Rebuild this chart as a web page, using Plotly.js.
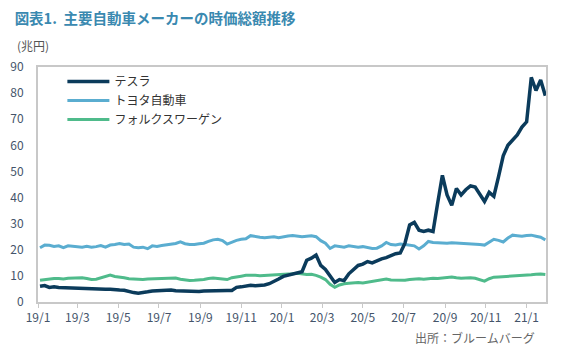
<!DOCTYPE html>
<html>
<head>
<meta charset="utf-8">
<script src="https://cdn.plot.ly/plotly-3.0.1.min.js"></script>
<style>html,body{margin:0;padding:0;background:#fff}#chart{width:563px;height:353px}</style>
</head>
<body>
<div id="chart"></div>
<script>
const dates = [
'2019-01-04','2019-01-11','2019-01-18','2019-01-25',
'2019-02-01','2019-02-08','2019-02-15','2019-02-22',
'2019-03-01','2019-03-08','2019-03-15','2019-03-22','2019-03-29',
'2019-04-05','2019-04-12','2019-04-19','2019-04-26',
'2019-05-03','2019-05-10','2019-05-17','2019-05-24','2019-05-31',
'2019-06-07','2019-06-14','2019-06-21','2019-06-28',
'2019-07-05','2019-07-12','2019-07-19','2019-07-26',
'2019-08-02','2019-08-09','2019-08-16','2019-08-23','2019-08-30',
'2019-09-06','2019-09-13','2019-09-20','2019-09-27',
'2019-10-04','2019-10-11','2019-10-18','2019-10-25',
'2019-11-01','2019-11-08','2019-11-15','2019-11-22','2019-11-29',
'2019-12-06','2019-12-13','2019-12-20','2019-12-27',
'2020-01-03','2020-01-10','2020-01-17','2020-01-24','2020-01-31',
'2020-02-07','2020-02-14','2020-02-21','2020-02-28',
'2020-03-06','2020-03-13','2020-03-20','2020-03-27',
'2020-04-03','2020-04-10','2020-04-17','2020-04-24',
'2020-05-01','2020-05-08','2020-05-15','2020-05-22','2020-05-29',
'2020-06-05','2020-06-12','2020-06-19','2020-06-26',
'2020-07-03','2020-07-10','2020-07-17','2020-07-24','2020-07-31',
'2020-08-07','2020-08-14','2020-08-21','2020-08-28',
'2020-09-04','2020-09-11','2020-09-18','2020-09-25',
'2020-10-02','2020-10-09','2020-10-16','2020-10-23','2020-10-30',
'2020-11-06','2020-11-13','2020-11-20','2020-11-27',
'2020-12-04','2020-12-11','2020-12-18','2020-12-25',
'2021-01-01','2021-01-08','2021-01-15','2021-01-22','2021-01-29'
];
const tesla = [
6.0,6.3,5.6,5.8,
5.6,5.5,5.6,5.5,
5.3,5.2,5.0,4.9,5.0,
4.8,4.9,4.9,4.6,
4.6,4.5,4.0,3.6,3.4,
3.8,3.9,4.2,4.3,
4.4,4.5,4.6,4.3,
4.2,4.1,4.0,3.9,4.0,
4.2,4.3,4.3,4.2,
4.3,4.4,4.4,5.6,
5.8,6.1,6.4,6.2,6.3,
6.5,7.0,7.8,8.8,
9.8,10.3,10.8,11.3,11.6,
16.0,16.8,18.0,14.0,
12.5,9.8,7.5,8.6,
8.2,10.8,12.6,14.0,
14.5,15.5,15.0,15.8,16.5,
17.0,17.8,18.5,18.8,
22.5,29.5,30.5,27.5,27.0,
27.5,27.0,38.0,48.5,
41.0,37.0,43.5,41.0,
43.0,44.5,44.0,41.5,38.5,
42.0,40.5,48.0,56.0,
60.0,62.0,64.0,67.0,
69.0,86.0,81.0,85.0,79.0
];
const toyota = [
20.8,21.8,21.7,21.3,
21.5,20.8,21.5,21.4,
21.2,21.0,21.3,21.0,21.2,
21.6,21.0,21.8,22.0,
22.4,22.0,22.2,21.0,20.8,
21.0,20.4,21.5,21.3,
21.6,21.8,22.0,22.4,
23.0,22.3,22.0,22.0,22.3,
22.5,23.2,23.8,24.0,
23.5,22.2,23.0,23.6,
24.0,24.2,25.4,25.0,24.8,
24.6,24.8,25.0,24.6,
25.0,25.3,25.5,25.3,25.0,
25.2,25.4,25.0,23.5,
22.5,20.5,21.5,21.2,
21.0,21.5,21.3,21.0,
21.2,20.8,20.5,20.6,21.5,
22.8,22.0,21.8,22.2,
22.0,21.8,21.5,20.3,21.5,
23.2,22.8,22.7,22.6,
22.5,22.7,22.6,22.4,
22.5,22.4,22.2,22.0,21.8,
23.0,24.0,23.6,23.0,
24.5,25.6,25.4,25.2,
25.5,25.6,25.2,24.8,23.8
];
const vw = [
8.3,8.6,8.9,9.0,
9.0,8.8,9.1,9.2,
9.4,9.3,9.0,8.6,8.7,
9.3,10.0,10.3,9.8,
9.6,9.3,8.9,8.8,8.6,
8.6,8.8,8.9,9.0,
9.1,9.2,9.3,9.2,
8.7,8.4,8.2,8.3,8.4,
8.6,9.0,9.2,9.0,
8.8,8.6,9.3,9.7,
9.9,10.2,10.3,10.2,10.1,
10.2,10.3,10.4,10.5,
10.4,10.6,10.8,11.0,10.7,
10.5,10.6,10.2,9.5,
8.6,6.8,5.6,6.5,
7.0,7.2,7.4,7.5,
7.3,7.6,7.8,8.0,8.4,
8.8,8.4,8.3,8.2,
8.3,8.6,8.8,8.9,8.7,
8.9,9.1,9.0,9.2,
9.4,9.6,9.3,9.1,
9.2,9.3,9.1,8.6,8.0,
8.9,9.5,9.6,9.7,
9.8,9.9,10.1,10.0,
10.1,10.4,10.6,10.7,10.5
];
const names = ['テスラ','トヨタ自動車','フォルクスワーゲン'];
const colors = ['#0b3b5b','#5aadd0','#4fbb8b'];
const widths = [3.5, 3, 3];

const font = '"Noto Sans CJK JP", "Noto Sans", sans-serif';
const traces = [tesla, toyota, vw].map((v, i) => ({
  x: dates, y: v, type: 'scatter', mode: 'lines', name: names[i],
  line: {color: colors[i], width: widths[i]}
}));
traces[0].legendrank = 1; traces[1].legendrank = 2; traces[2].legendrank = 3;
// draw tesla on top
const data = [traces[1], traces[2], traces[0]];
const layout = {
  width: 563, height: 353,
  margin: {l: 38, r: 17, t: 67, b: 51},
  paper_bgcolor: '#fff', plot_bgcolor: '#fff',
  font: {family: font, color: '#44546a', size: 12},
  title: {text: '<b>図表1.  主要自動車メーカーの時価総額推移</b>', x: 0.026, xanchor: 'left', y: 0.945, yanchor: 'middle',
          font: {family: font, size: 14.5, color: '#3a89b0'}},
  showlegend: true,
  legend: {x: 0.048, y: 1.0, xanchor: 'left', yanchor: 'top', bgcolor: 'rgba(0,0,0,0)',
           traceorder: 'normal', font: {family: font, size: 12, color: '#333'}, itemwidth: 42, tracegroupgap: 0},
  xaxis: {
    type: 'date', range: ['2019-01-01', '2021-01-30'], tick0: '2019-01-01', dtick: 'M2',
    tickformat: '%y/%-m', showgrid: false, zeroline: false,
    showline: true, linecolor: '#c8c8c8', linewidth: 2, mirror: true,
    ticks: 'outside', ticklen: 4, tickcolor: '#c8c8c8', tickwidth: 1,
    tickfont: {family: font, size: 12, color: '#44546a'}
  },
  yaxis: {
    range: [0, 90], dtick: 10, showgrid: false, zeroline: false,
    showline: true, linecolor: '#c8c8c8', linewidth: 2, mirror: true,
    ticks: '', ticklabelstandoff: 10,
    tickfont: {family: font, size: 12, color: '#44546a'}
  },
  annotations: [
    {text: '(兆円)', xref: 'paper', yref: 'paper', x: -0.045, y: 1.09, xanchor: 'left', yanchor: 'middle',
     showarrow: false, font: {family: font, size: 12, color: '#555'}},
    {text: '出所：ブルームバーグ', xref: 'paper', yref: 'paper', x: 0.982, y: -0.149, xanchor: 'right', yanchor: 'middle',
     showarrow: false, font: {family: font, size: 12, color: '#666'}}
  ]
};
Plotly.newPlot('chart', data, layout, {staticPlot: true, displayModeBar: false});
</script>
</body>
</html>
